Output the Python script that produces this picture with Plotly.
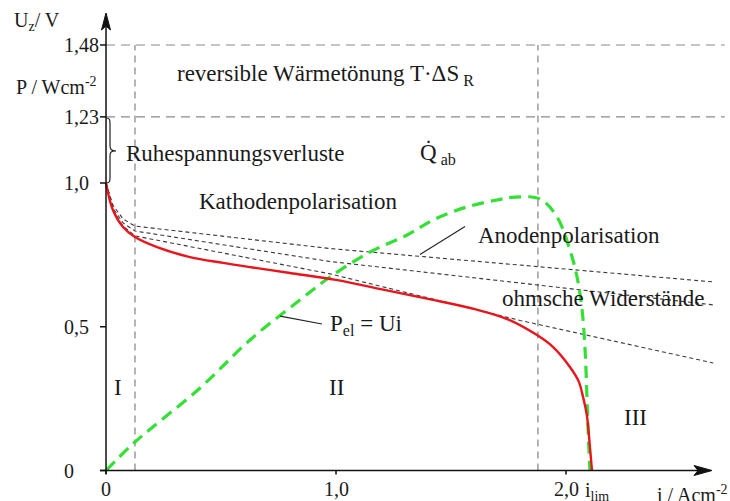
import plotly.graph_objects as go

# ---------------- data ----------------
# cell voltage U_z over current density i (A/cm^2)
i_cell = [0, 0.03, 0.074, 0.126, 0.222, 0.365, 0.509, 0.657, 0.8, 1.0, 1.2, 1.4,
          1.6, 1.75, 1.874, 1.943, 2.017, 2.055, 2.074, 2.091, 2.104, 2.113]
u_cell = [1.0, 0.906, 0.847, 0.812, 0.777, 0.742, 0.722, 0.704, 0.687, 0.663, 0.63, 0.597,
          0.562, 0.525, 0.471, 0.43, 0.36, 0.31, 0.256, 0.19, 0.082, 0.0]

# electric power density P_el = U*i (W/cm^2)
i_power = [0, 0.126, 0.409, 0.626, 0.843, 0.974, 1.148, 1.309, 1.422, 1.57, 1.7, 1.778,
           1.887, 1.961, 2.017, 2.048, 2.07, 2.083, 2.091, 2.096, 2.104]
p_power = [0, 0.099, 0.287, 0.454, 0.593, 0.673, 0.76, 0.819, 0.871, 0.917, 0.941, 0.951,
           0.944, 0.882, 0.767, 0.673, 0.558, 0.419, 0.256, 0.141, 0.0]

# loss contributions (voltage after each loss term)
i_loss = [0, 0.03, 0.074, 0.126, 0.974, 2.64]
u_kathode = [1.0, 0.923, 0.875, 0.85, 0.772, 0.656]
u_anode = [1.0, 0.913, 0.861, 0.833, 0.727, 0.576]
i_ohm = [0, 0.03, 0.074, 0.126, 0.974, 1.8, 2.64]
u_ohm = [1.0, 0.906, 0.85, 0.816, 0.684, 0.522, 0.374]

# reference voltages and region borders
u_thermo = 1.48
u_rev = 1.23
u_open = 1.0
i_border = [0.126, 1.878]
i_lim = 2.113

y_ticks = [1.48, 1.23, 1.0, 0.5, 0]
y_tick_text = ["1,48", "1,23", "1,0", "0,5", "0"]
x_ticks = [0, 1.0, 2.0]
x_tick_text = ["0", "1,0", "2,0"]

# ---------------- styling ----------------
FONT = "Liberation Serif"
TXT = "#1a1a1a"
FS = 23

X_RANGE = [-0.4609, 2.7130]
Y_RANGE = [-0.1061, 1.6365]

fig = go.Figure()

dash_thin = dict(color="#3a3a3a", width=1.1, dash="4px,3px")
fig.add_trace(go.Scatter(x=i_loss, y=u_kathode, mode="lines", line=dash_thin, hoverinfo="skip"))
fig.add_trace(go.Scatter(x=i_loss, y=u_anode, mode="lines", line=dash_thin, hoverinfo="skip"))
fig.add_trace(go.Scatter(x=i_ohm, y=u_ohm, mode="lines", line=dash_thin, hoverinfo="skip"))

fig.add_trace(go.Scatter(x=i_power, y=p_power, mode="lines",
                         line=dict(color="#33e033", width=3.2, dash="12px,7px"),
                         line_shape="spline", hoverinfo="skip"))
fig.add_trace(go.Scatter(x=i_cell, y=u_cell, mode="lines",
                         line=dict(color="#e8151c", width=2.4),
                         line_shape="spline", hoverinfo="skip"))

shapes = []
guide = dict(color="#8a8a8a", width=1.2, dash="9px,6px")
for u in (u_thermo, u_rev):
    shapes.append(dict(type="line", x0=0, x1=2.69, y0=u, y1=u, line=guide, layer="below"))
for ib in i_border:
    shapes.append(dict(type="line", x0=ib, x1=ib, y0=0, y1=u_thermo,
                       line=dict(color="#6a6a6a", width=1, dash="7px,5px"), layer="below"))

# axes
axis_line = dict(color="#111111", width=1.5)
shapes.append(dict(type="line", x0=0, x1=0, y0=-0.012, y1=1.56, line=axis_line))
shapes.append(dict(type="line", x0=-0.026, x1=2.6, y0=0, y1=0, line=axis_line))
# arrow heads (pixel sized, anchored at the axis tips)
shapes.append(dict(type="path", xsizemode="pixel", ysizemode="pixel", xanchor=0, yanchor=1.5913,
                   path="M0,0 L-4.5,-17 L0,-13 L4.5,-17 Z",
                   fillcolor="#111111", line=dict(color="#111111", width=1)))
shapes.append(dict(type="path", xsizemode="pixel", ysizemode="pixel", xanchor=2.6348, yanchor=0,
                   path="M0,0 L-18,5 L-14,0 L-18,-5 Z",
                   fillcolor="#111111", line=dict(color="#111111", width=1)))
# tick marks
for t in y_ticks:
    shapes.append(dict(type="line", xsizemode="pixel", xanchor=0, x0=-6, x1=0, y0=t, y1=t,
                       line=axis_line))
for t in x_ticks:
    shapes.append(dict(type="line", ysizemode="pixel", yanchor=0, y0=-4, y1=0, x0=t, x1=t,
                       line=axis_line))

# brace marking the open-circuit losses
shapes.append(dict(type="path", xsizemode="pixel", ysizemode="pixel", xanchor=0, yanchor=u_open,
                   path="M0,0 C4,0 4,2 4,6 L4,27 C4,31 5,32 10,32 C5,32 4,34 4,38 "
                        "L4,59 C4,63 4,65 0,65",
                   line=dict(color="#222222", width=1.2)))

# leader lines
shapes.append(dict(type="line", x0=1.561, y0=0.8487, x1=1.365, y1=0.7513,
                   line=dict(color="#222222", width=1.1)))
shapes.append(dict(type="line", x0=0.939, y0=0.5096, x1=0.757, y1=0.537,
                   line=dict(color="#222222", width=1.1)))

ann = []


def label(x, y, text, xanchor="left", size=FS):
    ann.append(dict(x=x, y=y, text=text, showarrow=False, xanchor=xanchor, yanchor="middle",
                    font=dict(family=FONT, size=size, color=TXT)))


for t, s in zip(y_ticks, y_tick_text):
    label(-0.191, t, s, size=20)
for t, s in zip(x_ticks, x_tick_text):
    label(t, -0.066, s, xanchor="center", size=20)
label(2.074, -0.072, "i<sub>lim</sub>", size=20)
label(2.387, -0.08, "i / Acm<sup>-2</sup>", size=20)

label(-0.409, 1.56, "U<sub>z</sub>/ V", size=20)
label(-0.40, 1.337, "P / Wcm<sup>-2</sup>", size=20)

label(0.30, 1.376, "reversible Wärmetönung T·ΔS<sub> R</sub>")
label(0.078, 1.104, "Ruhespannungsverluste")
label(1.357, 1.10, "Q̇<sub> ab</sub>")
label(0.396, 0.937, "Kathodenpolarisation")
label(1.609, 0.819, "Anodenpolarisation")
label(1.713, 0.60, "ohmsche Widerstände")
label(0.965, 0.506, "P<sub>el</sub> = Ui")
label(0.052, 0.287, "I", xanchor="center")
label(1.0, 0.29, "II", xanchor="center")
label(2.30, 0.183, "III", xanchor="center")

fig.update_layout(
    width=730, height=501,
    margin=dict(l=0, r=0, t=0, b=0),
    paper_bgcolor="white", plot_bgcolor="white",
    showlegend=False,
    xaxis=dict(range=X_RANGE, visible=False, fixedrange=True),
    yaxis=dict(range=Y_RANGE, visible=False, fixedrange=True),
    shapes=shapes,
    annotations=ann,
)

fig.write_html("out.html")
